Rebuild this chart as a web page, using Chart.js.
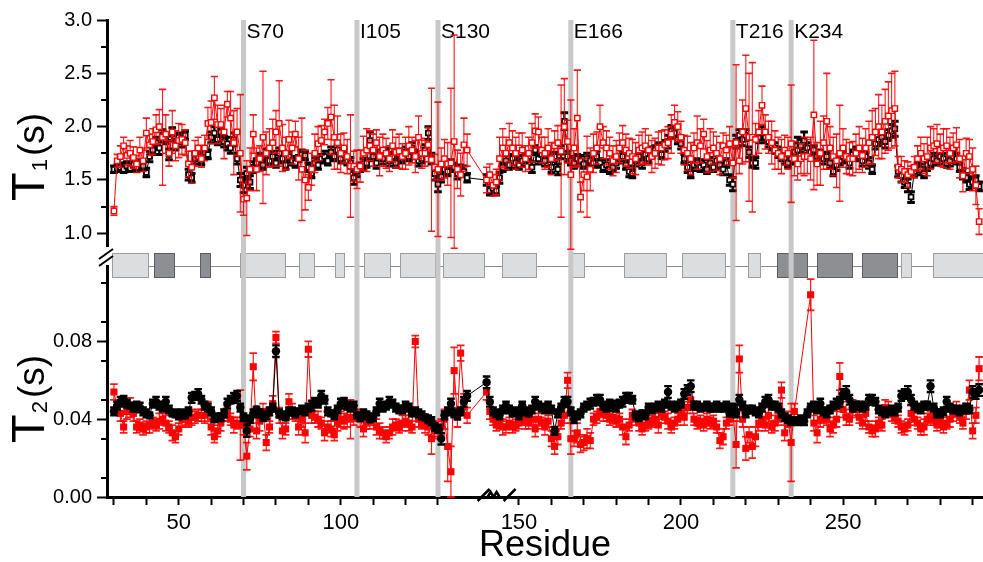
<!DOCTYPE html>
<html>
<head>
<meta charset="utf-8">
<script src="https://cdn.jsdelivr.net/npm/chart.js@4.4.1/dist/chart.umd.min.js"></script>
<style>html,body{margin:0;padding:0;background:#fff;}canvas{display:block;}</style>
</head>
<body>
<canvas id="c" width="983" height="562"></canvas>
<script>
// ---------------- data ----------------
const FIRST_RESIDUE = 30;

const t1Black = [
1.60,1.61,1.62,1.60,1.63,1.61,1.64,1.62,1.66,1.63,
1.57,1.72,1.78,1.85,1.80,1.92,1.88,1.74,1.93,1.83,
1.90,1.86,1.92,1.55,1.52,1.70,1.72,1.68,1.76,1.74,
1.90,1.94,1.88,1.95,1.86,1.84,1.80,1.88,1.70,1.50,
1.45,1.56,1.48,1.62,1.66,1.70,1.64,1.74,1.68,1.72,
1.66,1.75,1.70,1.64,1.72,1.68,1.66,1.70,1.74,1.73,
1.62,1.56,1.66,1.64,1.70,1.72,1.68,1.76,1.72,1.78,
1.70,1.74,1.68,1.66,1.52,1.58,1.62,1.65,1.66,1.87,
1.72,1.66,1.74,1.70,1.76,1.68,1.72,1.66,1.74,1.70,
1.76,1.72,1.80,1.74,1.68,1.70,1.78,1.94,1.70,1.56,
1.46,1.53,1.60,1.58,1.64,1.62,1.56,1.60,1.58,1.52,
1.50,1.40,1.42,1.40,1.52,1.62,1.68,1.64,1.70,1.66,
1.64,1.68,1.70,1.72,1.62,1.78,1.70,1.74,1.68,1.76,
1.62,1.72,1.60,1.76,2.05,1.72,1.68,1.66,1.70,1.68,
1.65,1.70,1.68,1.66,1.72,1.66,1.62,1.64,1.60,1.62,
1.66,1.70,1.72,1.64,1.58,1.56,1.68,1.72,1.66,1.74,
1.70,1.76,1.78,1.80,1.74,1.82,1.86,1.96,1.94,1.88,
1.84,1.70,1.62,1.56,1.64,1.66,1.62,1.64,1.60,1.66,
1.62,1.68,1.64,1.60,1.66,1.50,1.46,1.86,1.92,1.88,
1.92,1.76,1.66,1.66,1.90,1.94,1.90,1.86,1.82,1.80,
1.76,1.72,1.70,1.66,1.70,1.76,1.78,1.82,1.87,1.80,
1.76,1.78,1.72,1.74,1.70,1.72,1.66,1.58,1.64,1.68,
1.72,1.70,1.66,1.74,1.76,1.72,1.68,1.72,1.66,1.60,
1.84,1.88,1.90,1.86,1.92,1.96,1.98,1.58,1.54,1.48,
1.45,1.34,1.58,1.62,1.60,1.56,1.64,1.66,1.70,1.68,
1.72,1.70,1.66,1.68,1.72,1.70,1.62,1.56,1.52,1.46,
1.48,1.50,1.44];

const t1BlackErr = [
.03,.03,.04,.03,.04,.03,.04,.04,.03,.04,
.04,.05,.04,.05,.06,.05,.04,.05,.06,.05,
.04,.05,.04,.05,.04,.05,.04,.04,.05,.04,
.05,.06,.05,.04,.05,.06,.05,.06,.05,.06,
.07,.06,.06,.05,.04,.05,.04,.05,.04,.05,
.04,.05,.04,.04,.05,.04,.04,.03,.04,.04,
.04,.04,.05,.04,.04,.05,.04,.05,.04,.05,
.04,.05,.04,.05,.06,.05,.04,.05,.04,.08,
.04,.05,.04,.05,.04,.05,.04,.04,.05,.04,
.05,.04,.05,.04,.05,.04,.05,.06,.05,.06,
.07,.05,.05,.04,.05,.04,.05,.04,.05,.04,
.05,.04,.04,.04,.05,.04,.05,.04,.04,.05,
.04,.05,.04,.04,.05,.04,.05,.04,.05,.04,
.05,.04,.05,.06,.08,.05,.04,.05,.04,.05,
.04,.05,.04,.04,.05,.04,.04,.05,.04,.04,
.05,.04,.05,.04,.05,.04,.05,.04,.05,.04,
.04,.05,.04,.05,.04,.05,.06,.05,.05,.04,
.05,.04,.05,.04,.05,.04,.04,.05,.04,.05,
.04,.05,.04,.05,.04,.05,.06,.06,.05,.06,
.05,.05,.04,.05,.05,.06,.05,.05,.04,.05,
.05,.04,.05,.04,.05,.09,.12,.06,.08,.05,
.05,.04,.05,.04,.05,.04,.05,.04,.05,.04,
.05,.04,.05,.04,.05,.04,.05,.04,.05,.04,
.05,.06,.05,.06,.05,.06,.07,.05,.06,.05,
.06,.05,.05,.04,.05,.04,.05,.04,.05,.04,
.04,.05,.04,.05,.04,.05,.04,.05,.04,.05,
.05,.04,.04];

const t1Red = [
1.21,1.68,1.72,1.82,1.73,1.75,1.71,1.65,1.78,1.68,
1.94,1.83,1.86,1.97,2.00,1.90,1.93,1.75,1.95,1.82,
1.87,1.88,1.85,1.65,1.62,1.75,1.80,1.70,1.80,2.03,
2.04,2.27,2.02,2.02,1.95,2.21,2.08,1.85,1.95,1.75,
1.32,1.33,1.60,1.93,1.60,1.70,1.90,1.75,1.80,1.85,
1.95,2.03,1.80,1.75,1.88,1.80,1.93,1.70,1.60,1.50,
1.43,1.60,1.75,1.84,1.87,1.95,2.03,2.09,1.90,1.85,
1.75,1.80,1.72,1.63,1.63,1.60,1.63,1.75,1.78,1.82,
1.78,1.85,1.72,1.78,1.75,1.70,1.82,1.76,1.77,1.72,
1.75,1.82,1.78,1.72,1.90,1.75,1.75,1.83,1.69,1.62,
1.60,1.65,1.70,1.65,1.66,1.86,1.60,1.55,1.83,1.78,
1.50,1.55,1.45,1.48,1.70,1.80,1.75,1.85,1.80,1.75,
1.80,1.78,1.70,1.75,1.85,1.96,1.95,1.78,1.75,1.80,
1.70,1.82,1.85,1.77,2.00,1.86,1.55,1.80,2.08,1.34,
1.55,1.53,1.60,1.75,1.80,2.00,1.85,1.80,1.75,1.68,
1.72,1.80,1.85,1.78,1.75,1.72,1.70,1.78,1.80,1.82,
1.78,1.72,1.75,1.80,1.80,1.83,1.85,1.93,2.04,2.00,
1.90,1.78,1.75,1.70,1.80,1.85,1.82,1.93,1.72,1.78,
1.80,1.75,1.70,1.82,1.78,1.84,1.66,1.85,1.68,1.95,
2.17,1.90,1.90,1.88,1.95,2.20,1.95,1.90,1.85,1.78,
1.75,1.72,1.78,1.75,1.84,1.70,1.65,1.70,1.72,1.72,
1.70,2.11,1.65,1.75,1.85,2.05,1.80,1.72,1.68,1.75,
1.80,1.72,1.70,1.70,1.75,1.80,1.73,1.80,1.85,1.90,
1.95,2.00,1.95,2.05,2.10,2.15,2.17,1.62,1.60,1.58,
1.55,1.58,1.62,1.70,1.75,1.70,1.72,1.80,1.82,1.84,
1.78,1.80,1.82,1.75,1.80,1.83,1.70,1.54,1.75,1.72,
1.60,1.45,1.11];

const t1RedErr = [
.04,.06,.10,.08,.09,.12,.10,.08,.12,.10,
.14,.10,.12,.14,.16,.45,.18,.12,.20,.14,
.16,.14,.12,.12,.15,.12,.10,.08,.12,.15,
.20,.20,.18,.15,.25,.12,.25,.30,.22,.55,
.15,.35,.20,.18,.20,.12,.62,.20,.18,.22,
.20,.40,.22,.15,.18,.15,.12,.20,.48,.28,
.12,.15,.18,.16,.14,.12,.15,.35,.30,.25,
.18,.14,.16,.48,.14,.18,.15,.16,.20,.14,
.15,.12,.18,.15,.14,.12,.15,.14,.16,.12,
.15,.18,.12,.15,.20,.14,.12,.16,.67,.12,
.63,.15,.18,.20,.70,1.00,.18,.20,.25,.15,
.12,.10,.10,.12,.20,.18,.15,.18,.16,.15,
.14,.16,.12,.15,.18,.16,.14,.12,.15,.18,
.15,.14,.16,.62,.45,.20,.70,.18,.45,.14,
.15,.38,.20,.18,.15,.20,.15,.16,.15,.14,
.15,.14,.16,.15,.14,.16,.15,.14,.15,.16,
.14,.15,.14,.15,.16,.14,.15,.18,.16,.14,
.15,.14,.16,.15,.14,.25,.16,.14,.15,.20,
.15,.16,.15,.12,.14,.16,.14,.73,.12,.30,
.50,.60,.70,.15,.20,.18,.16,.15,.20,.18,
.15,.16,.14,.15,.55,.16,.15,.14,.18,.16,
.20,.70,.20,.30,.25,.45,.20,.18,.25,.45,
.18,.16,.15,.16,.18,.20,.16,.18,.20,.25,
.22,.30,.25,.30,.32,.35,.35,.10,.12,.10,
.12,.05,.10,.12,.15,.14,.18,.20,.16,.18,
.15,.18,.16,.15,.14,.16,.18,.15,.14,.16,
.20,.18,.12];

const t2Black = [
.044,.047,.049,.050,.048,.047,.046,.047,.046,.044,
.043,.042,.048,.049,.047,.046,.049,.045,.043,.043,
.042,.043,.042,.044,.051,.052,.053,.050,.047,.046,
.044,.040,.041,.041,.043,.048,.050,.051,.052,.046,
.041,.034,.040,.043,.045,.043,.041,.042,.044,.046,
.075,.043,.042,.041,.044,.044,.043,.044,.045,.044,
.046,.047,.049,.048,.052,.050,.044,.043,.042,.045,
.048,.049,.047,.046,.047,.042,.041,.043,.042,.040,
.041,.044,.048,.046,.047,.049,.048,.046,.045,.045,
.047,.046,.043,.044,.043,.042,.041,.040,.039,.036,
.035,.030,.042,.044,.048,.043,.042,.044,.049,.052,
.059,.049,.044,.043,.042,.045,.047,.045,.043,.044,
.042,.047,.044,.043,.045,.049,.047,.046,.045,.047,
.045,.034,.043,.046,.049,.049,.044,.040,.042,.043,
.046,.047,.048,.049,.050,.050,.047,.046,.048,.047,
.046,.048,.049,.051,.051,.050,.042,.041,.043,.042,
.046,.045,.046,.047,.046,.048,.054,.047,.046,.047,
.048,.053,.055,.057,.047,.047,.046,.046,.047,.046,
.046,.047,.046,.046,.047,.043,.046,.043,.050,.047,
.043,.045,.045,.044,.043,.046,.049,.050,.047,.047,
.046,.043,.041,.040,.039,.039,.039,.040,.039,.043,
.046,.047,.045,.048,.044,.043,.045,.047,.048,.049,
.053,.054,.050,.046,.047,.047,.046,.047,.050,.050,
.049,.045,.044,.043,.044,.045,.044,.046,.052,.053,
.054,.050,.047,.046,.045,.047,.047,.057,.046,.043,
.043,.044,.049,.046,.045,.045,.044,.045,.046,.045,
.054,.053,.055];

const t2BlackErr = [
.002,.002,.0025,.002,.002,.0015,.002,.002,.0025,.002,
.002,.0015,.002,.0025,.002,.002,.0025,.002,.0015,.002,
.002,.002,.0015,.002,.0025,.002,.0025,.002,.002,.002,
.002,.0015,.002,.002,.002,.0025,.002,.0025,.0025,.002,
.002,.003,.002,.002,.0015,.002,.002,.002,.002,.002,
.003,.002,.002,.0015,.002,.002,.002,.0015,.002,.002,
.002,.0025,.002,.002,.0025,.002,.002,.0015,.002,.002,
.0025,.002,.002,.002,.002,.0015,.002,.002,.002,.0015,
.002,.002,.0025,.002,.002,.0025,.002,.002,.002,.002,
.002,.002,.0015,.002,.002,.002,.0015,.002,.002,.002,
.002,.003,.002,.002,.0025,.002,.002,.002,.0025,.0025,
.003,.0025,.002,.002,.002,.002,.002,.002,.0015,.002,
.002,.002,.002,.0015,.002,.0025,.002,.002,.002,.002,
.002,.002,.002,.002,.0025,.0025,.002,.002,.002,.002,
.002,.002,.0025,.002,.0025,.0025,.002,.002,.002,.0025,
.002,.002,.0025,.0025,.0025,.002,.002,.002,.0015,.002,
.002,.002,.002,.002,.002,.002,.003,.002,.002,.002,
.002,.0025,.0025,.003,.002,.002,.002,.0015,.002,.002,
.002,.002,.002,.002,.002,.0015,.002,.002,.0025,.002,
.002,.002,.002,.002,.002,.002,.0025,.0025,.002,.002,
.002,.002,.002,.002,.002,.0015,.002,.002,.002,.002,
.002,.002,.002,.0025,.002,.002,.002,.002,.0025,.0025,
.0025,.003,.0025,.002,.002,.002,.002,.002,.0025,.0025,
.002,.002,.002,.002,.002,.002,.002,.002,.0025,.0025,
.003,.0025,.002,.002,.002,.002,.002,.003,.002,.002,
.002,.002,.0025,.002,.002,.002,.002,.002,.002,.002,
.003,.0025,.003];

const t2Red = [
.054,.046,.043,.036,.044,.046,.043,.036,.037,.035,
.036,.037,.038,.037,.039,.040,.038,.036,.033,.031,
.035,.040,.040,.039,.041,.041,.042,.042,.042,.044,
.036,.031,.034,.038,.042,.043,.040,.037,.038,.037,
.037,.021,.035,.067,.034,.039,.044,.028,.036,.048,
.082,.042,.034,.035,.049,.044,.042,.036,.040,.033,
.076,.042,.041,.040,.038,.033,.036,.035,.032,.038,
.040,.039,.041,.040,.041,.042,.040,.035,.038,.039,
.040,.036,.034,.033,.031,.033,.036,.037,.036,.038,
.039,.038,.036,.080,.040,.038,.037,.036,.030,.034,
.035,.036,.040,.026,.013,.065,.041,.074,.049,.042,
.054,.044,.040,.037,.038,.036,.036,.038,.036,.037,
.038,.040,.039,.038,.040,.035,.040,.038,.036,.039,
.030,.026,.031,.038,.042,.060,.030,.030,.033,.027,
.028,.030,.029,.040,.041,.044,.043,.042,.040,.041,
.039,.040,.036,.031,.037,.042,.040,.038,.035,.037,
.038,.039,.040,.037,.043,.041,.039,.036,.038,.040,
.043,.041,.046,.050,.040,.038,.039,.037,.040,.038,
.039,.036,.029,.031,.038,.040,.043,.027,.071,.040,
.025,.032,.026,.031,.038,.040,.037,.042,.036,.038,
.040,.055,.033,.040,.028,.044,null,null,null,null,
.104,.038,.033,.040,.042,.040,.035,.037,.040,.062,
.045,.041,.040,.046,.045,.041,.038,.043,.036,.034,
.035,.038,.037,.046,.045,.043,.041,.039,.036,.035,
.037,.043,.040,.038,.035,.036,.040,.041,.040,.037,
.039,.036,.038,.040,.043,.045,.041,.038,.044,.055,
.034,.042,.066];

const t2RedErr = [
.004,.003,.004,.003,.004,.005,.004,.003,.003,.003,
.003,.004,.003,.003,.004,.003,.004,.003,.004,.003,
.003,.004,.003,.003,.004,.003,.003,.003,.004,.005,
.004,.003,.003,.004,.003,.004,.003,.004,.003,.018,
.005,.007,.004,.007,.004,.005,.004,.004,.003,.004,
.003,.004,.004,.003,.004,.004,.003,.004,.004,.005,
.004,.004,.003,.004,.003,.004,.003,.004,.003,.004,
.004,.004,.005,.010,.004,.003,.004,.004,.003,.004,
.003,.004,.004,.003,.003,.003,.004,.003,.003,.004,
.003,.004,.003,.003,.004,.003,.004,.004,.008,.004,
.004,.004,.005,.018,.013,.012,.005,.004,.004,.004,
.004,.004,.003,.003,.003,.004,.003,.003,.003,.003,
.003,.003,.004,.003,.003,.004,.003,.003,.004,.003,
.004,.004,.004,.003,.004,.004,.008,.004,.005,.004,
.004,.005,.004,.003,.003,.003,.004,.003,.003,.003,
.003,.003,.004,.004,.003,.003,.003,.004,.003,.003,
.003,.003,.003,.004,.003,.003,.004,.003,.003,.003,
.003,.004,.003,.004,.003,.003,.003,.003,.003,.003,
.003,.003,.004,.004,.003,.003,.004,.012,.007,.004,
.006,.004,.006,.005,.004,.004,.003,.004,.003,.004,
.003,.004,.004,.004,.020,.004,.003,.003,.003,.003,
.008,.004,.005,.004,.004,.003,.004,.004,.004,.007,
.004,.004,.003,.004,.004,.003,.003,.004,.003,.003,
.004,.003,.003,.004,.004,.004,.003,.003,.003,.003,
.003,.004,.003,.003,.003,.004,.003,.003,.003,.003,
.003,.003,.003,.004,.004,.004,.003,.003,.004,.005,
.004,.004,.006];

// x-axis ticks (the axis is broken between 130 and 150)
const xTickValues = [30,40,50,60,70,80,90,100,110,120,130,150,160,170,180,190,200,210,220,230,240,250,260,270,280,290];
const t1TickValues = [1.0,1.5,2.0,2.5,3.0];
const t1MinorTicks = [1.25,1.75,2.25,2.75];
const t2TickValues = [0,0.02,0.04,0.06,0.08,0.10];
const t2MinorTicks = [0.01,0.03,0.05,0.07,0.09,0.11];

// highlighted residues
const markerResidues = [70,105,130,166,216,234];
const markerLabels = ['S70','I105','S130','E166','T216','K234'];

// secondary structure (L = light box, D = dark box)
const ssStart = [29.5,42.5,56.5,68.9,87,98.1,107.1,118.3,131.6,144.8,166.4,182.4,200.3,220.7,229.6,242,255.9,267.9,277.8];
const ssEnd   = [40.7,48.8,59.9,83.2,92.2,101.2,115.5,129.5,139.6,155.6,170.4,195.7,213.9,224.7,239.2,253.1,267,271.3,300];
const ssType  = ['L','D','D','L','L','L','L','L','L','L','L','L','L','L','D','D','D','L','L'];

// ---------------- scale with axis break ----------------
const BREAK_AT = 139.5, BREAK_GAP = 5.0;
const toDisplay = v => (v > BREAK_AT ? v + BREAK_GAP : v);
const fromDisplay = v => (v > BREAK_AT + BREAK_GAP ? v - BREAK_GAP : Math.min(v, BREAK_AT));

class BrokenLinearScale extends Chart.LinearScale {
  getPixelForValue(v) { return v == null ? NaN : super.getPixelForValue(toDisplay(v)); }
  getValueForPixel(p) { return fromDisplay(super.getValueForPixel(p)); }
}
BrokenLinearScale.id = 'brokenLinear';
BrokenLinearScale.defaults = Chart.LinearScale.defaults;
Chart.register(BrokenLinearScale);

Chart.defaults.font.family = '"Liberation Sans", Arial, sans-serif';
Chart.defaults.color = '#000';

const residues = t1Black.map((_, i) => FIRST_RESIDUE + i);
const pts = vals => vals.map((v, i) => ({x: residues[i], y: v}));

// ---------------- plugins ----------------
const errorBars = {
  id: 'errorBars',
  beforeDatasetDraw(chart, args) {
    const ds = chart.data.datasets[args.index];
    if (!ds.errors) return;
    const xs = chart.scales.x, ys = chart.scales[ds.yAxisID];
    const ctx = chart.ctx;
    ctx.save();
    ctx.beginPath();
    ctx.rect(xs.left, ys.top - 2, xs.right - xs.left + 4, ys.bottom - ys.top + 6);
    ctx.clip();
    ctx.strokeStyle = ds.errColor;
    ds.data.forEach((p, i) => {
      if (p.y == null) return;
      const e = ds.errors[i];
      if (!e) return;
      const px = xs.getPixelForValue(p.x);
      const yt = ys.getPixelForValue(p.y + e), yb = ys.getPixelForValue(p.y - e);
      ctx.lineWidth = ds.errWidth;
      ctx.beginPath(); ctx.moveTo(px, yt); ctx.lineTo(px, yb); ctx.stroke();
      ctx.lineWidth = ds.capWidth;
      ctx.beginPath();
      ctx.moveTo(px - ds.capHalf, yt); ctx.lineTo(px + ds.capHalf, yt);
      ctx.moveTo(px - ds.capHalf, yb); ctx.lineTo(px + ds.capHalf, yb);
      ctx.stroke();
    });
    ctx.restore();
  }
};

function drawYTitle(ctx, x, y, main, sub, rest) {
  ctx.save();
  ctx.translate(x, y);
  ctx.rotate(-Math.PI / 2);
  ctx.fillStyle = '#000';
  ctx.textBaseline = 'alphabetic';
  ctx.textAlign = 'left';
  ctx.font = '47px "Liberation Sans", Arial, sans-serif';
  ctx.fillText(main, 0, 0);
  const w = ctx.measureText(main).width;
  ctx.font = '22px "Liberation Sans", Arial, sans-serif';
  ctx.fillText(sub, w + 1, 3);
  ctx.font = '37px "Liberation Sans", Arial, sans-serif';
  ctx.fillText(rest, 45, 0);
  ctx.restore();
}

const decor = {
  id: 'decor',
  beforeDatasetsDraw(chart) {
    const {ctx, chartArea: ca, scales: {x, yBand}} = chart;
    ctx.save();
    ctx.beginPath();
    ctx.rect(ca.left, ca.top, ca.right - ca.left, ca.bottom - ca.top);
    ctx.clip();
    // secondary-structure band
    const yMid = Math.round(yBand.getPixelForValue(0.48)) + 0.5;
    ctx.strokeStyle = '#8a8a8a';
    ctx.lineWidth = 1;
    ctx.beginPath();
    ctx.moveTo(x.getPixelForValue(ssStart[0]), yMid);
    ctx.lineTo(ca.right, yMid);
    ctx.stroke();
    const yTop = Math.round(yBand.getPixelForValue(0.9));
    const yBot = Math.round(yBand.getPixelForValue(0.07));
    ssStart.forEach((s, i) => {
      const x0 = Math.round(x.getPixelForValue(s));
      const x1 = Math.round(x.getPixelForValue(ssEnd[i]));
      const dark = ssType[i] === 'D';
      ctx.fillStyle = dark ? '#8e8f93' : '#dcddde';
      ctx.fillRect(x0, yTop, x1 - x0, yBot - yTop);
      ctx.strokeStyle = dark ? '#5c5d60' : '#9c9c9c';
      ctx.strokeRect(x0 + 0.5, yTop + 0.5, x1 - x0 - 1, yBot - yTop - 1);
    });
    // highlighted residue lines
    ctx.fillStyle = '#c8c8c8';
    markerResidues.forEach(r => {
      const px = x.getPixelForValue(r);
      ctx.fillRect(px - 2.5, ca.top, 5, ca.bottom - ca.top);
    });
    ctx.restore();
    ctx.save();
    ctx.fillStyle = '#000';
    ctx.font = '21px "Liberation Sans", Arial, sans-serif';
    ctx.textBaseline = 'alphabetic';
    ctx.textAlign = 'left';
    markerResidues.forEach((r, i) => {
      ctx.fillText(markerLabels[i], x.getPixelForValue(r) + 3, ca.top + 18);
    });
    ctx.restore();
  },
  afterDraw(chart) {
    const {ctx, scales: {x, yT1, yT2}} = chart;
    ctx.save();
    ctx.strokeStyle = '#000';
    ctx.lineWidth = 2;
    const ax = yT1.right;
    const minor = (scale, v) => {
      const py = Math.round(scale.getPixelForValue(v));
      ctx.beginPath(); ctx.moveTo(ax - 6, py); ctx.lineTo(ax, py); ctx.stroke();
    };
    t1MinorTicks.forEach(v => minor(yT1, v));
    t2MinorTicks.forEach(v => minor(yT2, v));
    // y-axis break mark
    const by = yT1.bottom;
    ctx.fillStyle = '#fff';
    ctx.fillRect(ax - 4, by - 3, 8, 18);
    ctx.lineWidth = 2;
    ctx.beginPath();
    ctx.moveTo(ax - 8, by + 9); ctx.lineTo(ax + 6, by - 1);
    ctx.moveTo(ax - 8, by + 16); ctx.lineTo(ax + 6, by + 6);
    ctx.stroke();
    // x-axis break mark
    const bx = x.getPixelForValue(140) + 10;
    const yb = x.top;
    ctx.lineWidth = 2.5;
    ctx.beginPath();
    ctx.moveTo(bx - 19, yb + 4); ctx.lineTo(bx - 7, yb - 8);
    ctx.moveTo(bx - 9, yb); ctx.lineTo(bx - 6, yb - 5); ctx.lineTo(bx - 3, yb); ctx.lineTo(bx, yb - 5); ctx.lineTo(bx + 3, yb);
    ctx.moveTo(bx + 7, yb + 4); ctx.lineTo(bx + 19, yb - 8);
    ctx.stroke();
    ctx.restore();
    drawYTitle(ctx, 44, 201, 'T', '1', '(s)');
    drawYTitle(ctx, 44, 443, 'T', '2', '(s)');
  }
};

// ---------------- chart ----------------
const RED = '#ff0000';
new Chart(document.getElementById('c'), {
  type: 'line',
  data: {
    datasets: [
      {label: 'T1 (black)', data: pts(t1Black), errors: t1BlackErr, yAxisID: 'yT1', clip: false,
       borderColor: '#000', borderWidth: 1, pointStyle: 'rect', pointRadius: 3.4,
       pointBackgroundColor: '#fff', pointBorderColor: '#000', pointBorderWidth: 1.8,
       errColor: '#000', errWidth: 2.2, capWidth: 3, capHalf: 3.8, order: 4},
      {label: 'T1 (red)', data: pts(t1Red), errors: t1RedErr, yAxisID: 'yT1', clip: false,
       borderColor: RED, borderWidth: 1, pointStyle: 'rect', pointRadius: 3.8,
       pointBackgroundColor: '#fff', pointBorderColor: RED, pointBorderWidth: 1.4,
       errColor: 'rgba(255,0,0,0.9)', errWidth: 1.1, capWidth: 1.6, capHalf: 3.6, order: 3},
      {label: 'T2 (red)', data: pts(t2Red), errors: t2RedErr, yAxisID: 'yT2', spanGaps: true, clip: false,
       borderColor: RED, borderWidth: 1, pointStyle: 'rect', pointRadius: 5,
       pointBackgroundColor: RED, pointBorderColor: RED, pointBorderWidth: 0,
       errColor: 'rgba(255,0,0,0.9)', errWidth: 1.2, capWidth: 1.8, capHalf: 3.8, order: 2},
      {label: 'T2 (black)', data: pts(t2Black), errors: t2BlackErr, yAxisID: 'yT2', clip: false,
       borderColor: '#000', borderWidth: 1, pointStyle: 'circle', pointRadius: 4.2,
       pointBackgroundColor: '#000', pointBorderColor: '#000', pointBorderWidth: 0,
       errColor: '#000', errWidth: 1.8, capWidth: 2.4, capHalf: 3.8, order: 1}
    ]
  },
  options: {
    responsive: false,
    animation: false,
    devicePixelRatio: 1,
    layout: {autoPadding: false, padding: {top: 20, left: 0, right: 0, bottom: 0}},
    plugins: {legend: {display: false}, tooltip: {enabled: false}},
    elements: {line: {tension: 0}},
    scales: {
      x: {
        type: 'brokenLinear', position: 'bottom', min: 27.86, max: 298.2, bounds: 'data',
        afterBuildTicks: s => { s.ticks = xTickValues.map(v => ({value: v})); },
        afterFit: s => { s.height = 65; },
        ticks: {autoSkip: false, maxRotation: 0, minRotation: 0, padding: 5, color: '#000',
                font: {size: 22}, callback: v => (v % 50 === 0 ? String(v) : '')},
        grid: {drawOnChartArea: false, drawTicks: true, tickLength: 8, tickWidth: 2, tickColor: '#000'},
        border: {display: true, width: 3, color: '#000'},
        title: {display: true, text: 'Residue', color: '#000', font: {size: 36, lineHeight: 1}, padding: {top: 0, bottom: -2}}
      },
      yT1: {
        type: 'linear', position: 'left', stack: 'panels', stackWeight: 230, weight: 3,
        min: 0.8435, max: 3.0, bounds: 'data',
        afterBuildTicks: s => { s.ticks = t1TickValues.map(v => ({value: v})); },
        afterFit: s => { s.width = 107; },
        ticks: {padding: 5, color: '#000', font: {size: 20}, callback: v => Number(v).toFixed(1)},
        grid: {drawOnChartArea: false, tickLength: 10, tickWidth: 2, tickColor: '#000'},
        border: {display: true, width: 3, color: '#000'}
      },
      yBand: {
        type: 'linear', position: 'left', stack: 'panels', stackWeight: 30, weight: 2,
        min: 0, max: 1,
        afterFit: s => { s.width = 107; },
        ticks: {display: false},
        grid: {display: false, drawOnChartArea: false, drawTicks: false},
        border: {display: true, width: 3, color: '#000'}
      },
      yT2: {
        type: 'linear', position: 'left', stack: 'panels', stackWeight: 217, weight: 1,
        min: 0, max: 0.1116, bounds: 'data',
        afterBuildTicks: s => { s.ticks = t2TickValues.map(v => ({value: v})); },
        afterFit: s => { s.width = 107; },
        ticks: {padding: 5, color: '#000', font: {size: 20}, callback: v => Number(v).toFixed(2)},
        grid: {drawOnChartArea: false, tickLength: 10, tickWidth: 2, tickColor: '#000'},
        border: {display: true, width: 3, color: '#000'}
      }
    }
  },
  plugins: [errorBars, decor]
});
</script>
</body>
</html>
